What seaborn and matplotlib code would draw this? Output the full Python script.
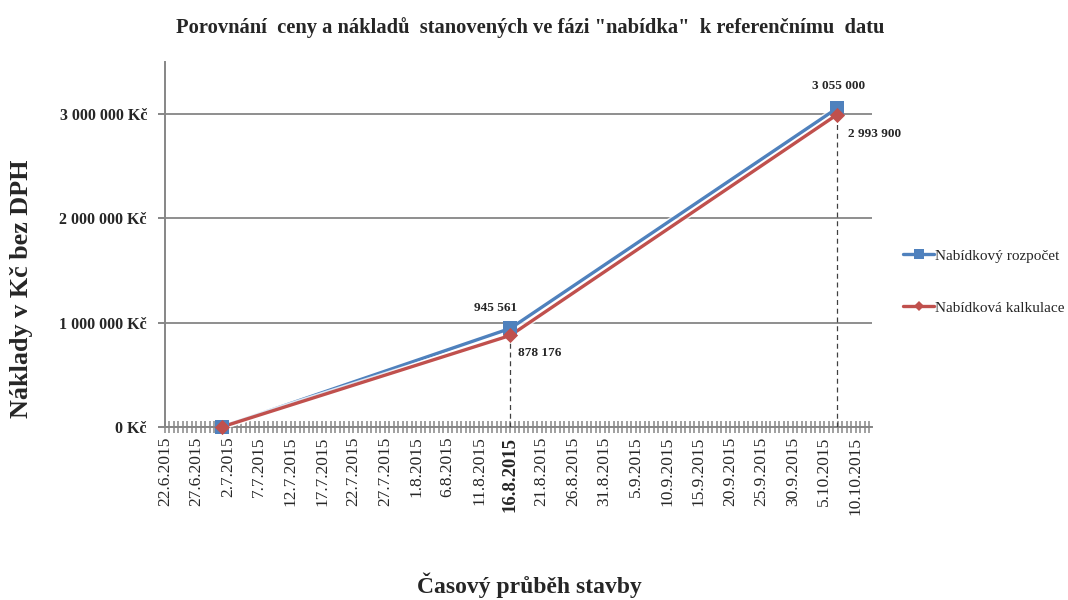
import matplotlib
matplotlib.use("Agg")
import matplotlib.dates as mdates
import matplotlib.patheffects as pe
import matplotlib.pyplot as plt
import numpy as np
import pandas as pd
import seaborn as sns
from matplotlib.lines import Line2D
from matplotlib.ticker import FixedLocator, FuncFormatter

# --- data -------------------------------------------------------------
dates = ["2015-07-01", "2015-08-16", "2015-10-07"]
rozpocet = [0, 945561, 3055000]          # Nabídkový rozpočet
kalkulace = [0, 878176, 2993900]         # Nabídková kalkulace
series_names = ["Nabídkový rozpočet", "Nabídková kalkulace"]
axis_start = "2015-06-22"
label_step_days = 5
n_labels = 23
highlight_label = "16.8.2015"

title = 'Porovnání  ceny a nákladů  stanovených ve fázi "nabídka"  k referenčnímu  datu'
ylabel = "Náklady v Kč bez DPH"
xlabel = "Časový průběh stavby"

# --- styling ----------------------------------------------------------
sns.set_style("white")
plt.rcParams["font.family"] = ["Liberation Serif", "DejaVu Serif"]

blue = "#4F81BD"
red = "#C0504D"
grey = "#868686"
palette = {series_names[0]: blue, series_names[1]: red}

df = pd.DataFrame({
    "datum": pd.to_datetime(dates * 2),
    "hodnota": rozpocet + kalkulace,
    "rada": [series_names[0]] * len(dates) + [series_names[1]] * len(dates),
})

fig = plt.figure(figsize=(10.68, 6.0), dpi=100)
ax = fig.add_axes([0.1545, 0.2883, 0.662, 0.6084])

# lines with a soft white halo
halo = [pe.Stroke(linewidth=4.5, foreground="#ffffff", alpha=0.8), pe.Normal()]
sns.lineplot(data=df, x="datum", y="hodnota", hue="rada", palette=palette,
             linewidth=2.4, legend=False, ax=ax, zorder=5)
for ln in ax.lines:
    ln.set_path_effects(halo)
    ln.set_clip_on(False)

# point markers: squares for the budget, diamonds for the calculation
for name, mk, size in [(series_names[0], "s", 100), (series_names[1], "D", 60)]:
    sns.scatterplot(data=df[df["rada"] == name], x="datum", y="hodnota",
                    color=palette[name], marker=mk, s=size, linewidth=0,
                    legend=False, ax=ax, zorder=6, clip_on=False)

# drop lines from the two later points to the axis
x_dates = pd.to_datetime(dates)
for d, v in zip(x_dates[1:], rozpocet[1:]):
    ax.vlines(d, 0, v, colors="#404040", linestyles=(0, (4, 3)), linewidth=0.9, zorder=4)

# --- axes -------------------------------------------------------------
start = pd.Timestamp(axis_start)
ax.set_xlim(start, start + pd.Timedelta(days=112.6))
ax.set_ylim(0, 3_500_000)

major = [start + pd.Timedelta(days=label_step_days * i) for i in range(n_labels)]
labels = [f"{d.day}.{d.month}.{d.year}" for d in major]
ax.set_xticks(major)
ax.set_xticklabels(labels, rotation=90, va="top", ha="center", fontsize=12.5)
for t in ax.get_xticklabels():
    if t.get_text() == highlight_label:
        t.set_fontweight("bold")
        t.set_fontsize(13.5)

s0 = mdates.date2num(start)
minor_pos = np.arange(s0, s0 + 112.6, 5 / 7)
ax.xaxis.set_minor_locator(FixedLocator(minor_pos))
ax.tick_params(axis="x", which="both", bottom=True, direction="inout", length=8,
               width=1.1, color=grey, pad=3)

ax.set_yticks([0, 1_000_000, 2_000_000, 3_000_000])
ax.yaxis.set_major_formatter(
    FuncFormatter(lambda v, _: f"{v:,.0f}".replace(",", " ") + " Kč"))
ax.tick_params(axis="y", left=True, direction="out", length=5, width=1.4,
               color=grey, pad=8)
for t in ax.get_yticklabels():
    t.set_fontweight("bold")
    t.set_fontsize(11.5)

ax.grid(axis="y", color=grey, linewidth=1.3)
ax.grid(axis="x", visible=False)
for side in ("top", "right"):
    ax.spines[side].set_visible(False)
for side in ("left", "bottom"):
    ax.spines[side].set_color(grey)
    ax.spines[side].set_linewidth(1.4)
ax.set_xlabel("")
ax.set_ylabel("")

# --- value labels -----------------------------------------------------
lab_kw = dict(textcoords="offset points", fontsize=9.5, fontweight="bold",
              ha="center", va="center", zorder=7)
ax.annotate(f"{rozpocet[1]:,}".replace(",", " "), (x_dates[1], rozpocet[1]),
            xytext=(-11, 15), **lab_kw)
ax.annotate(f"{kalkulace[1]:,}".replace(",", " "), (x_dates[1], kalkulace[1]),
            xytext=(21, -13), **lab_kw)
ax.annotate(f"{rozpocet[2]:,}".replace(",", " "), (x_dates[2], rozpocet[2]),
            xytext=(1, 16), **lab_kw)
ax.annotate(f"{kalkulace[2]:,}".replace(",", " "), (x_dates[2], kalkulace[2]),
            xytext=(27, -14), **lab_kw)

# --- legend -----------------------------------------------------------
handles = [
    Line2D([], [], color=blue, marker="s", markersize=7, linewidth=2.4, markeredgewidth=0),
    Line2D([], [], color=red, marker="D", markersize=5.5, linewidth=2.4, markeredgewidth=0),
]
fig.legend(handles, series_names, loc="upper left", bbox_to_anchor=(0.840, 0.595),
           frameon=False, fontsize=11, handlelength=2.0, handletextpad=0.1,
           labelspacing=2.5, borderaxespad=0)

# --- titles -----------------------------------------------------------
fig.text(0.496, 1 - 28 / 600, title, ha="center", va="center",
         fontsize=14.8, fontweight="bold")
fig.text(0.496, 1 - 585 / 600, xlabel, ha="center", va="center",
         fontsize=17, fontweight="bold")
fig.text(22 / 1068, 1 - 289 / 600, ylabel, ha="center", va="center",
         rotation=90, fontsize=18.8, fontweight="bold")

fig.savefig("out.png", dpi=100)
